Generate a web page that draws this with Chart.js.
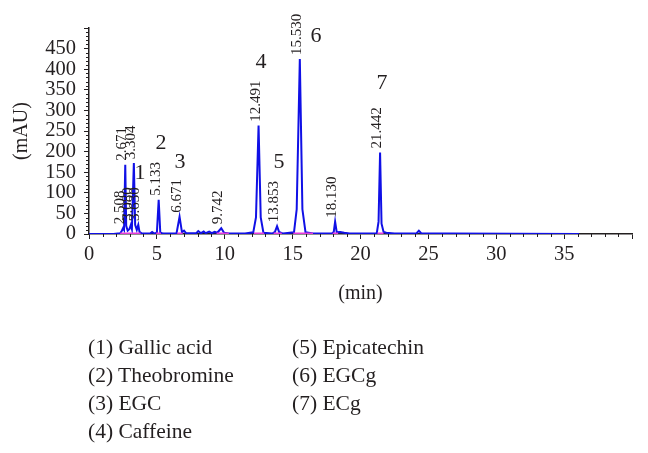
<!DOCTYPE html>
<html>
<head>
<meta charset="utf-8">
<script src="https://cdn.jsdelivr.net/npm/chart.js@4.4.1/dist/chart.umd.min.js"></script>
<style>
  html, body { margin: 0; padding: 0; background: #fff; }
  #wrap { position: relative; width: 648px; height: 453px; }
  .legend { position: absolute; top: 333px; font-family: "Liberation Serif", serif; font-size: 21.5px; line-height: 28px; color: #231f20; white-space: nowrap; }
</style>
</head>
<body>
<div id="wrap">
  <canvas id="chromChart" width="648" height="453"></canvas>
  <div class="legend" style="left:88px">
    <div>(1) Gallic acid</div>
    <div>(2) Theobromine</div>
    <div>(3) EGC</div>
    <div>(4) Caffeine</div>
  </div>
  <div class="legend" style="left:292px">
    <div>(5) Epicatechin</div>
    <div>(6) EGCg</div>
    <div>(7) ECg</div>
  </div>
</div>
<script>
// chromatogram trace (min, mAU)
const traceTimes = [0, 1.8, 2.3, 2.42, 2.508, 2.58, 2.671, 2.74, 2.85, 2.98, 3.08, 3.16, 3.304, 3.40, 3.52, 3.63, 3.72, 3.9,
  4.5, 4.65, 4.8, 5.0, 5.133, 5.25, 5.45, 6.45, 6.671, 6.85, 7.0, 7.15, 7.9, 8.05, 8.25, 8.45, 8.6, 8.85, 9.05, 9.25, 9.45,
  9.742, 9.95, 10.3, 11.5, 12.1, 12.3, 12.491, 12.65, 12.85, 13.5, 13.7, 13.853, 14.0, 14.3, 15.1, 15.3, 15.53, 15.72, 15.95,
  16.5, 17.9, 18.03, 18.13, 18.25, 18.5, 18.8, 19.2, 21.2, 21.33, 21.442, 21.55, 21.7, 21.9, 22.5, 24.1, 24.3, 24.5, 26.5, 36.1];
const traceValues = [0, 0, 2, 8, 14, 10, 168, 20, 8, 12, 22, 12, 172, 22, 10, 22, 5, 1,
  1, 5, 1, 3, 83, 4, 1, 2, 42, 4, 8, 2, 2, 7, 2, 6, 2, 6, 2, 5, 3,
  14, 3, 1, 1, 4, 40, 263, 40, 3, 1, 5, 19, 5, 1, 4, 60, 425, 60, 4,
  1, 1, 5, 30, 4, 5, 3, 1, 2, 30, 198, 25, 5, 3, 1, 1, 8, 1, 1, 0];

// integration baselines (magenta)
const baseStart = [2.3, 4.95, 6.5, 9.4, 12.15, 13.6, 15.05, 17.95, 21.25];
const baseEnd = [3.8, 5.3, 6.9, 10.3, 12.9, 14.2, 16.5, 18.35, 21.7];

// retention time labels
const peakLabels = ['2.508', '2.671', '3.080', '3.304', '3.630', '5.133', '6.671', '9.742',
  '12.491', '13.853', '15.530', '18.130', '21.442'];

// compound numbers and where they sit (min, mAU)
const compoundNames = ['1', '2', '3', '4', '5', '6', '7'];
const compoundX = [3.76, 5.30, 6.70, 12.67, 13.99, 16.72, 21.58];
const compoundY = [148, 221, 175, 416, 175, 479, 367];

const xTicksMax = 35;
const yTicksMax = 450;

const ink = '#231f20';
const serif = '"Liberation Serif", "Times New Roman", serif';

const tracePoints = traceTimes.map((t, i) => ({ x: t, y: traceValues[i] }));
const basePoints = [];
baseStart.forEach((s, i) => {
  basePoints.push({ x: s, y: 0.8 }, { x: baseEnd[i], y: 0.8 }, { x: baseEnd[i], y: null });
});

function apexOf(label) {
  const t = parseFloat(label);
  let best = 0, d = Infinity;
  traceTimes.forEach((tt, i) => {
    if (Math.abs(tt - t) < d) { d = Math.abs(tt - t); best = i; }
  });
  return { t: t, v: traceValues[best] };
}

const annotate = {
  id: 'annotate',
  afterDraw(chart) {
    const { ctx, chartArea, scales: { x, y } } = chart;
    ctx.save();
    ctx.strokeStyle = ink;
    ctx.lineWidth = 1;
    // minor ticks
    ctx.beginPath();
    for (let t = 1; t < 40; t++) {
      if (t % 5 === 0) continue;
      const px = Math.round(x.getPixelForValue(t)) + 0.5;
      ctx.moveTo(px, chartArea.bottom);
      ctx.lineTo(px, chartArea.bottom + 3);
    }
    for (let v = 10; v < 500; v += 10) {
      if (v % 50 === 0) continue;
      const py = Math.round(y.getPixelForValue(v)) + 0.5;
      ctx.moveTo(chartArea.left, py);
      ctx.lineTo(chartArea.left - 3, py);
    }
    ctx.stroke();

    // retention time labels
    ctx.fillStyle = ink;
    ctx.font = '15px ' + serif;
    ctx.textAlign = 'left';
    ctx.textBaseline = 'alphabetic';
    peakLabels.forEach(lbl => {
      const p = apexOf(lbl);
      ctx.save();
      ctx.translate(x.getPixelForValue(p.t) + 1, y.getPixelForValue(p.v) - 4);
      ctx.rotate(-Math.PI / 2);
      ctx.fillText(lbl, 0, 0);
      ctx.restore();
    });

    // compound numbers
    ctx.font = '22px ' + serif;
    ctx.textAlign = 'center';
    ctx.textBaseline = 'middle';
    compoundNames.forEach((n, i) => {
      ctx.fillText(n, x.getPixelForValue(compoundX[i]), y.getPixelForValue(compoundY[i]));
    });
    ctx.restore();
  }
};

const ctx = document.getElementById('chromChart').getContext('2d');
new Chart(ctx, {
  type: 'line',
  data: {
    datasets: [{
      data: basePoints,
      borderColor: 'rgb(230, 60, 220)',
      borderWidth: 2.5,
      pointRadius: 0,
      spanGaps: false,
      order: 0
    }, {
      data: tracePoints,
      borderColor: '#1010e6',
      borderWidth: 2,
      pointRadius: 0,
      tension: 0,
      order: 1
    }]
  },
  plugins: [annotate],
  options: {
    responsive: false,
    animation: false,
    layout: { padding: { left: 0, top: 28, right: 16, bottom: 0 } },
    plugins: { legend: { display: false }, tooltip: { enabled: false } },
    scales: {
      x: {
        type: 'linear',
        min: 0, max: 40,
        afterFit(s) { s.height = 453 - 234; },
        border: { display: true, color: ink, width: 1.5 },
        grid: { drawOnChartArea: false, drawTicks: true, tickLength: 5, color: ink },
        ticks: {
          stepSize: 5,
          padding: 3,
          autoSkip: false,
          color: ink,
          font: { family: serif, size: 20.5 },
          maxRotation: 0,
          callback: v => (v <= xTicksMax ? v : '')
        },
        title: { display: true, text: '(min)', color: ink, font: { family: serif, size: 20 }, padding: { top: 0, bottom: 147 } }
      },
      y: {
        min: 0, max: 500,
        afterFit(s) { s.width = 89; },
        border: { display: true, color: ink, width: 1.5 },
        grid: { drawOnChartArea: false, drawTicks: true, tickLength: 5, color: ink },
        ticks: {
          stepSize: 50,
          padding: 8,
          autoSkip: false,
          color: ink,
          font: { family: serif, size: 20.5 },
          callback: v => (v <= yTicksMax ? v : '')
        },
        title: { display: true, text: '(mAU)', color: ink, font: { family: serif, size: 20 }, padding: { top: 10, bottom: 0 } }
      }
    }
  }
});
</script>
</body>
</html>
